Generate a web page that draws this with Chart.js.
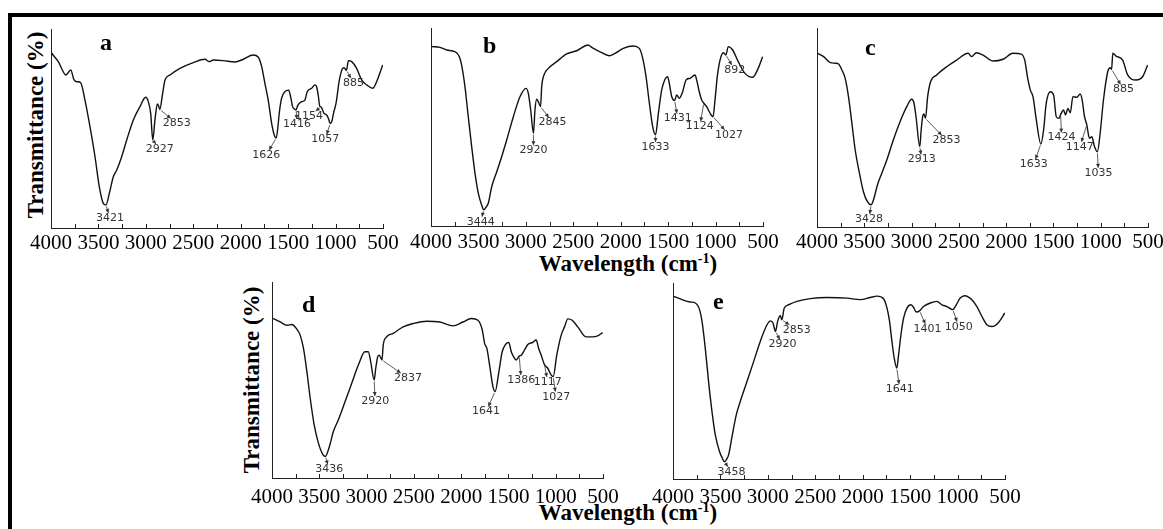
<!DOCTYPE html>
<html>
<head>
<meta charset="utf-8">
<title>FTIR spectra</title>
<script src="https://cdn.jsdelivr.net/npm/chart.js@4.4.1/dist/chart.umd.min.js"></script>
<style>
  body { margin: 0; width: 1163px; height: 529px; overflow: hidden; background: #fff; position: relative; font-family: "Liberation Serif", "Times New Roman", serif; }
  .frame { position: absolute; left: 8px; top: 13px; right: -10px; bottom: -10px; border-top: 4px solid #000; border-left: 4px solid #000; }
  canvas { position: absolute; }
  .ytitle { position: absolute; font-weight: bold; font-size: 23px; white-space: nowrap; transform: translate(-50%, -50%) rotate(-90deg); }
  .xtitle { position: absolute; font-weight: bold; font-size: 23px; white-space: nowrap; transform: translate(-50%, -50%); }
  .xtitle sup { font-size: 14px; vertical-align: 8px; line-height: 0; }
</style>
</head>
<body>
<div class="frame"></div>
<div class="ytitle" style="left:36px; top:125px;">Transmittance (%)</div>
<div class="ytitle" style="left:252px; top:380px;">Transmittance (%)</div>
<div class="xtitle" style="left:628px; top:264px;">Wavelength (cm<sup>-1</sup>)</div>
<div class="xtitle" style="left:628px; top:513px;">Wavelength (cm<sup>-1</sup>)</div>

<script>
// spectrum a
const waveA = [3993, 3923, 3842, 3792, 3757, 3723, 3687, 3642, 3589, 3536, 3491, 3449, 3421, 3385, 3343, 3307, 3255, 3202, 3132, 3062,
  3002, 2974, 2949, 2927, 2904, 2879, 2865, 2853, 2823, 2798, 2746, 2640, 2500, 2377, 2331, 2289, 2184, 2060, 1973, 1868,
  1815, 1779, 1745, 1710, 1674, 1645, 1626, 1605, 1594, 1569, 1534, 1495, 1474, 1453, 1432, 1416, 1400, 1358, 1323, 1299,
  1253, 1218, 1200, 1183, 1165, 1154, 1122, 1094, 1075, 1057, 1040, 1020, 995, 960, 924, 910, 885, 865, 830, 778,
  725, 672, 609, 567, 503];
const transA = [87.8, 83.6, 76.9, 79.4, 74.4, 73.5, 73.0, 64.3, 50.9, 35.8, 20.8, 12.4, 11.6, 17.4, 25.8, 29.1, 35.8, 44.2, 54.3, 61.0,
  65.7, 63.5, 57.6, 44.2, 54.3, 62.3, 61.3, 59.6, 67.7, 74.4, 76.9, 80.2, 83.1, 84.8, 83.6, 84.4, 84.1, 83.4, 84.8, 86.9,
  85.8, 81.1, 72.7, 64.3, 52.6, 46.5, 45.2, 52.0, 57.6, 65.2, 68.5, 69.3, 66.0, 61.0, 59.8, 59.3, 61.5, 63.5, 64.3, 68.5,
  70.2, 71.9, 71.0, 66.8, 61.0, 60.8, 57.6, 56.8, 55.0, 52.5, 53.5, 58.0, 62.7, 74.4, 80.3, 80.5, 79.3, 84.1, 83.6, 80.2,
  74.4, 71.9, 70.2, 73.5, 81.9];
const peaksA = [3421, 2927, 2853, 1626, 1416, 1154, 1057, 885];

// spectrum b
const waveB = [3993, 3905, 3835, 3747, 3701, 3677, 3642, 3607, 3571, 3536, 3501, 3466, 3444, 3420, 3396, 3360, 3307, 3255, 3202, 3132,
  3062, 2998, 2974, 2949, 2920, 2904, 2886, 2869, 2845, 2833, 2809, 2763, 2675, 2570, 2464, 2342, 2306, 2218, 2120, 2060,
  1973, 1867, 1804, 1768, 1733, 1698, 1663, 1633, 1603, 1568, 1533, 1505, 1488, 1462, 1431, 1410, 1382, 1347, 1312, 1270,
  1217, 1199, 1172, 1146, 1124, 1094, 1066, 1027, 1006, 982, 953, 918, 892, 866, 820, 761, 690, 609, 551, 504];
const transB = [90.6, 90.2, 88.9, 88.0, 85.5, 81.3, 70.4, 55.2, 40.0, 26.6, 16.5, 10.6, 8.2, 9.5, 11.5, 19.8, 27.4, 35.0, 43.4, 55.2,
  65.3, 69.5, 67.0, 58.6, 46.8, 58.6, 64.0, 62.8, 60.3, 70.4, 76.3, 79.6, 83.0, 86.9, 88.5, 91.4, 90.2, 88.0, 86.0, 87.2,
  89.7, 90.9, 89.7, 84.7, 75.4, 62.0, 50.2, 46.0, 56.9, 68.7, 74.1, 75.4, 72.1, 65.3, 63.4, 66.2, 64.5, 67.8, 73.7, 74.6,
  76.3, 73.7, 67.8, 63.6, 62.0, 60.3, 57.7, 55.2, 63.6, 75.4, 83.8, 87.5, 86.4, 90.6, 88.9, 83.0, 77.1, 75.1, 79.6, 85.5];
const peaksB = [3444, 2920, 2845, 1633, 1431, 1124, 1027, 892];

// spectrum c
const waveC = [3993, 3930, 3860, 3807, 3772, 3737, 3702, 3667, 3631, 3596, 3551, 3509, 3467, 3428, 3403, 3361, 3315, 3262, 3193, 3122,
  3051, 2999, 2974, 2953, 2913, 2898, 2883, 2869, 2853, 2830, 2799, 2735, 2630, 2524, 2402, 2366, 2314, 2244, 2139, 2033,
  1928, 1839, 1804, 1769, 1744, 1716, 1681, 1633, 1604, 1576, 1533, 1498, 1470, 1442, 1424, 1393, 1372, 1347, 1322, 1294,
  1252, 1217, 1196, 1171, 1147, 1119, 1094, 1066, 1035, 1006, 971, 926, 900, 885, 872, 838, 768, 715, 627, 557, 504];
const transC = [87.3, 85.6, 82.6, 82.3, 81.9, 78.9, 74.7, 65.5, 52.1, 38.7, 27.0, 17.7, 12.7, 11.1, 13.6, 21.1, 27.0, 33.7, 43.7, 52.9,
  60.5, 64.2, 62.2, 55.4, 40.4, 49.0, 55.4, 56.8, 54.6, 65.5, 73.0, 76.4, 80.5, 83.9, 87.3, 85.6, 87.6, 86.4, 83.4, 84.3,
  87.3, 86.9, 83.9, 73.9, 68.8, 65.5, 53.8, 41.7, 48.7, 62.2, 68.0, 66.3, 55.4, 54.6, 56.5, 58.8, 56.3, 59.6, 57.4, 65.5,
  65.2, 66.8, 63.8, 55.4, 51.3, 44.6, 45.4, 40.4, 37.8, 47.1, 63.8, 78.0, 80.0, 79.2, 87.3, 85.9, 83.9, 76.4, 73.9, 75.5, 81.4];
const peaksC = [3428, 2913, 2853, 1633, 1424, 1147, 1035, 885];

// spectrum d
const waveD = [3989, 3913, 3842, 3789, 3737, 3702, 3667, 3631, 3596, 3554, 3509, 3462, 3436, 3393, 3351, 3298, 3227, 3157, 3087, 3017,
  2982, 2956, 2920, 2903, 2882, 2866, 2837, 2824, 2788, 2718, 2613, 2508, 2367, 2226, 2086, 1981, 1892, 1822, 1776, 1752,
  1728, 1699, 1664, 1641, 1601, 1566, 1531, 1496, 1470, 1446, 1418, 1386, 1362, 1330, 1295, 1242, 1207, 1180, 1154, 1117,
  1084, 1049, 1027, 989, 942, 907, 872, 826, 767, 680, 610, 557, 504];
const transD = [81.4, 79.6, 77.9, 78.3, 75.9, 72.9, 66.1, 54.2, 40.7, 27.1, 17.8, 11.9, 11.0, 16.1, 23.7, 29.7, 39.0, 48.3, 57.6, 64.4,
  64.4, 59.3, 50.0, 56.0, 61.9, 62.7, 60.2, 67.8, 72.0, 73.8, 77.1, 78.8, 80.0, 79.6, 77.6, 79.6, 81.4, 80.5, 75.4, 68.7,
  66.1, 57.6, 46.6, 44.1, 54.2, 64.4, 68.1, 69.2, 64.4, 61.9, 60.2, 62.2, 62.7, 65.3, 68.1, 69.2, 70.4, 66.1, 62.7, 57.6,
  56.0, 52.6, 51.7, 62.7, 72.9, 77.1, 81.2, 80.5, 77.1, 72.0, 72.0, 72.5, 74.2];
const peaksD = [3436, 2920, 2837, 1641, 1386, 1117, 1027];

// spectrum e
const waveE = [3993, 3905, 3818, 3765, 3720, 3694, 3660, 3625, 3589, 3554, 3509, 3480, 3458, 3436, 3414, 3378, 3333, 3291, 3220, 3150,
  3080, 3009, 2974, 2946, 2920, 2897, 2869, 2853, 2827, 2781, 2693, 2553, 2377, 2166, 2026, 1920, 1850, 1780, 1744, 1717,
  1692, 1668, 1641, 1622, 1597, 1569, 1534, 1492, 1464, 1436, 1401, 1359, 1288, 1218, 1165, 1112, 1050, 1014, 972, 925,
  884, 849, 796, 743, 691, 638, 568, 502];
const transE = [93.2, 91.5, 90.3, 89.8, 86.4, 80.4, 66.8, 49.7, 34.4, 22.5, 13.9, 10.6, 8.8, 10.0, 12.3, 21.6, 32.7, 39.5, 49.7, 59.9,
  70.2, 78.7, 80.7, 79.6, 75.3, 80.4, 83.4, 81.2, 87.2, 88.9, 90.6, 92.0, 92.6, 92.3, 91.5, 92.6, 93.3, 92.0, 87.2, 80.4,
  70.2, 61.7, 56.6, 63.3, 73.6, 82.1, 87.2, 88.9, 87.6, 85.2, 85.8, 88.0, 89.8, 90.6, 88.9, 88.0, 86.4, 88.9, 92.3, 93.5,
  92.8, 91.5, 88.0, 82.9, 78.7, 77.8, 79.9, 84.7];
const peaksE = [3458, 2920, 2853, 1641, 1401, 1050];

const xTicks = [4000, 3500, 3000, 2500, 2000, 1500, 1000, 500];

// panel placement (plot area in page px), letter offset and label offsets for each peak
const panels = [
  { letter: 'a', wave: waveA, trans: transA, peaks: peaksA, area: { l: 51, r: 383, t: 29, b: 228 }, tickPad: -5, letterAt: [49, 21],
    callouts: [[4, 13], [7, 9], [17, 14], [-10, 17], [1, 14], [-12, 9], [-5, 16], [7, 13]] },
  { letter: 'b', wave: waveB, trans: transB, peaks: peaksB, area: { l: 431, r: 763, t: 28, b: 226 }, tickPad: -4, letterAt: [52, 25],
    callouts: [[-3, 12], [0, 17], [12, 16], [0, 12], [3, 18], [-4, 23], [16, 18], [9, 15]] },
  { letter: 'c', wave: waveC, trans: transC, peaks: peaksC, area: { l: 817, r: 1148, t: 28, b: 227 }, tickPad: -5, letterAt: [48, 27],
    callouts: [[-2, 14], [2, 13], [21, 22], [-7, 20], [1, 23], [-7, 22], [1, 21], [12, 20]] },
  { letter: 'd', wave: waveD, trans: transD, peaks: peaksD, area: { l: 272, r: 603, t: 282, b: 478 }, tickPad: -1, letterAt: [30, 30],
    callouts: [[4, 13], [1, 21], [26, 18], [-9, 20], [2, 24], [3, 17], [3, 20]] },
  { letter: 'e', wave: waveE, trans: transE, peaks: peaksE, area: { l: 673, r: 1005, t: 283, b: 479 }, tickPad: -2, letterAt: [40, 26],
    callouts: [[7, 10], [7, 13], [15, 10], [3, 21], [8, 18], [6, 17]] }
];

// draws inward ticks, the panel letter and the peak callouts with arrows
function overlay(p) {
  return {
    id: 'overlay' + p.letter,
    afterDatasetsDraw(chart) {
      const ctx = chart.ctx, xs = chart.scales.x, ys = chart.scales.y, a = chart.chartArea;
      ctx.save();
      ctx.strokeStyle = '#222';
      ctx.lineWidth = 1;
      xs.ticks.forEach(t => {
        const px = Math.round(xs.getPixelForValue(t.value)) + 0.5;
        ctx.beginPath();
        ctx.moveTo(px, a.bottom);
        ctx.lineTo(px, a.bottom - 4);
        ctx.stroke();
      });

      ctx.fillStyle = '#000';
      ctx.font = 'bold 24px "Liberation Serif"';
      ctx.fillText(p.letter, a.left + p.letterAt[0], a.top + p.letterAt[1]);

      ctx.font = '11px "DejaVu Sans"';
      ctx.textAlign = 'center';
      ctx.textBaseline = 'middle';
      ctx.fillStyle = '#333';
      ctx.strokeStyle = '#333';
      ctx.lineWidth = 0.8;
      p.peaks.forEach((pk, i) => {
        const k = p.wave.indexOf(pk);
        const tx = xs.getPixelForValue(pk), ty = ys.getPixelForValue(p.trans[k]);
        const [dx, dy] = p.callouts[i];
        const lx = tx + dx, ly = ty + dy;
        const hw = ctx.measureText(String(pk)).width / 2 + 1, hh = 5;
        const s = Math.min(hw / Math.max(Math.abs(dx), 1e-6), hh / Math.max(Math.abs(dy), 1e-6));
        if (s < 1) {
          const ex = lx - dx * s, ey = ly - dy * s;
          const len = Math.hypot(ex - tx, ey - ty);
          const ux = (ex - tx) / len, uy = (ey - ty) / len;
          const sx = tx + ux * 1.5, sy = ty + uy * 1.5;
          ctx.beginPath();
          ctx.moveTo(sx, sy);
          ctx.lineTo(ex, ey);
          ctx.stroke();
          ctx.beginPath();
          ctx.moveTo(ex, ey);
          ctx.lineTo(ex - ux * 4 - uy * 2, ey - uy * 4 + ux * 2);
          ctx.lineTo(ex - ux * 4 + uy * 2, ey - uy * 4 - ux * 2);
          ctx.closePath();
          ctx.fill();
        }
        ctx.fillText(String(pk), lx, ly);
      });
      ctx.restore();
    }
  };
}

function makePanel(p) {
  const P = 26, T = 12, B = 32;
  const w = p.area.r - p.area.l + 2 * P, h = p.area.b - p.area.t + T + B;
  const cv = document.createElement('canvas');
  cv.width = w;
  cv.height = h;
  cv.style.left = (p.area.l - P) + 'px';
  cv.style.top = (p.area.t - T) + 'px';
  cv.style.width = w + 'px';
  cv.style.height = h + 'px';
  document.body.appendChild(cv);

  new Chart(cv, {
    type: 'line',
    data: {
      datasets: [{
        data: p.wave.map((x, i) => ({ x: x, y: p.trans[i] })),
        borderColor: '#111',
        borderWidth: 1.4,
        pointRadius: 0,
        cubicInterpolationMode: 'monotone',
        fill: false
      }]
    },
    options: {
      responsive: false,
      animation: false,
      devicePixelRatio: 1,
      layout: { padding: { left: P, right: P, top: T, bottom: 0 } },
      plugins: { legend: { display: false }, tooltip: { enabled: false } },
      scales: {
        x: {
          type: 'linear', reverse: true, min: 500, max: 4000,
          grid: { display: false },
          border: { color: '#222', width: 1 },
          ticks: {
            stepSize: 250, autoSkip: false, maxRotation: 0, padding: p.tickPad, color: '#000',
            font: { family: '"Liberation Serif"', size: 21 },
            callback: v => xTicks.includes(v) ? String(v) : ''
          },
          afterFit: s => { s.height = B; }
        },
        y: {
          min: 0, max: 100,
          grid: { display: false },
          border: { color: '#222', width: 1 },
          ticks: { display: false },
          afterFit: s => { s.width = 0; }
        }
      }
    },
    plugins: [overlay(p)]
  });
}

panels.forEach(makePanel);
</script>
</body>
</html>
